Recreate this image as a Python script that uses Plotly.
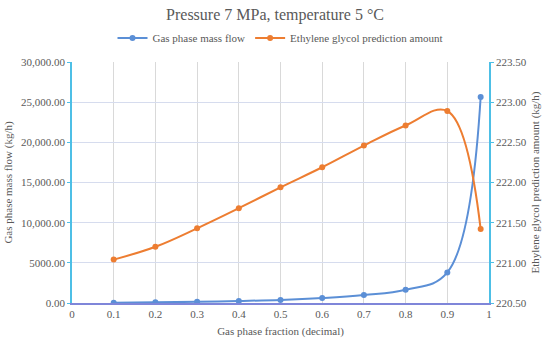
import plotly.graph_objects as go

gas_fraction = [0.1, 0.2, 0.3, 0.4, 0.5, 0.6, 0.7, 0.8, 0.9, 0.98]
gas_mass_flow = [20, 80, 150, 250, 380, 620, 1000, 1650, 3800, 25650]
glycol_amount = [221.04, 221.20, 221.43, 221.68, 221.94, 222.19, 222.46, 222.71, 222.89, 221.42]

x_ticks = [0, 0.1, 0.2, 0.3, 0.4, 0.5, 0.6, 0.7, 0.8, 0.9, 1]
x_tick_text = ["0", "0.1", "0.2", "0.3", "0.4", "0.5", "0.6", "0.7", "0.8", "0.9", "1"]
y_ticks = [0, 5000, 10000, 15000, 20000, 25000, 30000]
y_tick_text = ["0.00", "5000.00", "10,000.00", "15,000.00", "20,000.00", "25,000.00", "30,000.00"]
y2_ticks = [220.5, 221.0, 221.5, 222.0, 222.5, 223.0, 223.5]
y2_tick_text = ["220.50", "221.00", "221.50", "222.00", "222.50", "223.00", "223.50"]

ff = "Liberation Serif, Times New Roman, serif"
grey = "#595959"

def f(size):
    return dict(family=ff, size=size, color=grey)

fig = go.Figure()
fig.add_trace(go.Scatter(
    x=gas_fraction, y=gas_mass_flow, name="Gas phase mass flow",
    mode="lines+markers", line=dict(color="#5B8FD6", width=2, shape="spline", smoothing=1.1),
    marker=dict(size=6, color="#5B8FD6"), yaxis="y"))
fig.add_trace(go.Scatter(
    x=gas_fraction, y=glycol_amount, name="Ethylene glycol prediction amount",
    mode="lines+markers", line=dict(color="#ED7D31", width=2, shape="spline", smoothing=1.1),
    marker=dict(size=6, color="#ED7D31"), yaxis="y2"))

fig.update_layout(
    width=550, height=341,
    margin=dict(l=72, r=61, t=62, b=38, autoexpand=False),
    paper_bgcolor="white", plot_bgcolor="white",
    font=f(11),
    title=dict(text="Pressure 7 MPa, temperature 5 °C", x=0.5, xanchor="center",
               y=0.958, yanchor="middle", font=f(16)),
    legend=dict(orientation="h", x=0.5, xanchor="center", y=1.10, yanchor="middle",
                font=f(11), bgcolor="rgba(0,0,0,0)", itemwidth=30),
    showlegend=True,
    xaxis=dict(range=[0, 1], tickvals=x_ticks, ticktext=x_tick_text,
               showgrid=True, gridcolor="#D9D9D9", gridwidth=1,
               showline=True, linecolor="#7F86D9", linewidth=1.5,
               zeroline=False, ticks="", tickfont=f(11), automargin=False,
               title=dict(text="Gas phase fraction (decimal)", font=f(11), standoff=8)),
    yaxis=dict(range=[0, 30000], tickvals=y_ticks, ticktext=y_tick_text,
               showgrid=True, gridcolor="#D6DCEE", gridwidth=1,
               showline=True, linecolor="#4DBFE6", linewidth=1.5,
               zeroline=False, ticks="outside", ticklen=3, tickcolor="#4DBFE6",
               tickfont=f(11), automargin=False,
               title=dict(text="Gas phase mass flow (kg/h)", font=f(11), standoff=6)),
    yaxis2=dict(range=[220.5, 223.5], tickvals=y2_ticks, ticktext=y2_tick_text,
                overlaying="y", side="right", showgrid=False,
                showline=True, linecolor="#4DBFE6", linewidth=1.5,
                zeroline=False, ticks="outside", ticklen=3, tickcolor="#4DBFE6",
                tickfont=f(11), automargin=False,
                title=dict(text="Ethylene glycol prediction amount (kg/h)", font=f(11), standoff=6)),
)

fig.write_html("out.html", config={"displayModeBar": False},
               post_script="document.body.style.margin='0px';")
